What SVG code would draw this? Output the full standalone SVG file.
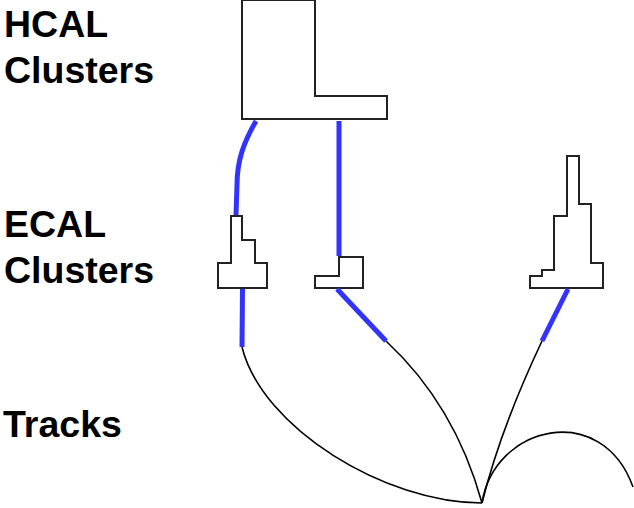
<svg xmlns="http://www.w3.org/2000/svg" width="634" height="508" viewBox="0 0 634 508">
<style>
.lbl{font-family:"Liberation Sans",Arial,sans-serif;font-weight:bold;font-size:37.5px;fill:#000}
.cl{fill:#fff;stroke:#222;stroke-width:2;stroke-linejoin:miter}
.blue{fill:none;stroke:#3333ff;stroke-width:5}
.trk{fill:none;stroke:#000;stroke-width:1.6}
</style>
<rect width="634" height="508" fill="#fff"/>
<g id="labels">
<text class="lbl" x="4" y="37">HCAL</text>
<text class="lbl" x="4" y="83">Clusters</text>
<text class="lbl" x="4" y="237">ECAL</text>
<text class="lbl" x="4" y="283">Clusters</text>
<text class="lbl" x="3" y="437">Tracks</text>
</g>
<g id="hcal">
<polygon class="cl" points="242,0 315,0 315,96 387,96 387,119 242,119"/>
</g>
<g id="ecal1">
<polygon class="cl" points="231,216 242,216 242,240 255,240 255,263 267,263 267,288 218,288 218,263 231,263"/>
</g>
<g id="ecal2">
<polygon class="cl" points="339,257 363,257 363,288 315,288 315,276 339,276"/>
</g>
<g id="ecal3">
<polygon class="cl" points="567,156 579,156 579,204 591,204 591,263 603,263 603,288 530,288 530,276 542,276 542,270 554,270 554,216 567,216"/>
</g>
<g id="connectors">
<path class="blue" d="M256,121 C244,142 237,160 237,185 L236,215"/>
<path class="blue" d="M339,121 L339,256"/>
<path class="blue" d="M242.5,289 L242,347"/>
<path class="blue" d="M337,289 L386,341"/>
<path class="blue" d="M568,289 L542,341"/>
<path class="trk" d="M242,347 C262,428 385,503 482,503"/>
<path class="trk" d="M386,341 Q455,405 482,503"/>
<path class="trk" d="M542,341 Q500,430 482,503"/>
<path class="trk" d="M482,503 C494,425 602,400 633,487"/>
</g>
</svg>
